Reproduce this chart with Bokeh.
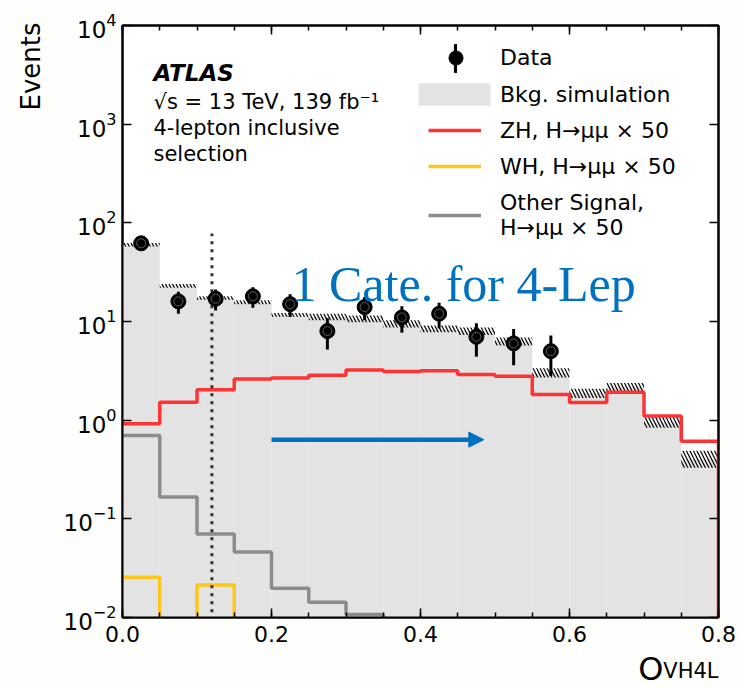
import numpy as np
from bokeh.plotting import figure
from bokeh.models import (ColumnDataSource, FixedTicker, LinearAxis, LogAxis, Label,
                          Legend, LegendItem, Arrow, NormalHead, Range1d, PrintfTickFormatter)
from bokeh.core.properties import value
from bokeh.embed import file_html
from bokeh.resources import INLINE

# ---------------- data ----------------
bin_edges = [0.00, 0.05, 0.10, 0.15, 0.20, 0.25, 0.30, 0.35, 0.40,
             0.45, 0.50, 0.55, 0.60, 0.65, 0.70, 0.75, 0.80]
bkg = [60, 23, 17.3, 15.7, 11.7, 11.1, 10.6, 9.5, 8.4, 8.0, 6.3, 3.0, 1.87, 2.15, 0.95, 0.40]
bkg_lo = [57.5, 22.0, 16.6, 15.0, 11.2, 10.3, 9.8, 8.7, 7.8, 7.3, 5.7, 2.7, 1.68, 1.94, 0.84, 0.33]
bkg_hi = [62.5, 24.0, 18.0, 16.4, 12.2, 12.0, 11.5, 10.3, 9.1, 8.7, 6.9, 3.35, 2.08, 2.38, 1.08, 0.49]
zh_x50 = [0.92, 1.52, 2.03, 2.62, 2.68, 2.85, 3.23, 3.11, 3.17, 2.90, 2.79, 1.82, 1.51, 1.92, 1.10, 0.61]
wh_x50 = [0.0256, 0, 0.0214, 0, 0, 0, 0, 0, 0, 0, 0, 0, 0, 0, 0, 0]
other_x50 = [0.70, 0.166, 0.070, 0.046, 0.0198, 0.0143, 0.0107, 0, 0, 0, 0, 0, 0, 0, 0, 0]
data_x = [0.025, 0.075, 0.125, 0.175, 0.225, 0.275, 0.325, 0.375, 0.425, 0.475, 0.525, 0.575]
data_y = [62, 16, 17, 18, 15, 8, 14, 11, 12, 7, 6, 5]
data_err = [7.9, 4.0, 4.1, 4.2, 3.9, 2.8, 3.7, 3.3, 3.5, 2.6, 2.4, 2.2]
x_ticks = [0.0, 0.2, 0.4, 0.6, 0.8]
y_ticks = [1e-2, 1e-1, 1e0, 1e1, 1e2, 1e3, 1e4]
cut_x = 0.12
cut_top = 78
arrow_x = [0.2, 0.485]
arrow_y = 0.635

# ---------------- styles ----------------
RED = "#ff3333"
YEL = "#ffc61a"
GRY = "#8c8c8c"
BKG = "#e3e3e3"
BLUE = "#0070c0"
FONT = "DejaVu Sans"
FLOOR = 1e-4

# frame geometry (pixels)
FL, FR, FT, FB = 122, 718, 25, 617
XMIN, XMAX, YMINE, YMAXE = 0.0, 0.8, -2, 4


def px_x(px):
    return XMIN + (px - FL) / (FR - FL) * (XMAX - XMIN)


def px_y(py):
    return 10 ** (YMAXE - (py - FT) / (FB - FT) * (YMAXE - YMINE))


def step_path(edges, vals):
    xs, ys = [], []
    for i, v in enumerate(vals):
        v = v if v > 0 else FLOOR
        xs += [edges[i], edges[i + 1]]
        ys += [v, v]
    xs.append(edges[-1])
    ys.append(FLOOR)
    return xs, ys


p = figure(frame_width=FR - FL, frame_height=FB - FT,
           x_range=Range1d(XMIN, XMAX), y_range=Range1d(10 ** YMINE, 10 ** YMAXE),
           y_axis_type="log", output_backend="svg", toolbar_location=None,
           min_border_left=FL, min_border_right=740 - FR, min_border_top=FT,
           min_border_bottom=687 - FB)
p.background_fill_color = "white"
p.border_fill_color = "#fefefc"
p.outline_line_color = "black"
p.outline_line_width = 2
p.xgrid.visible = False
p.ygrid.visible = False

left = bin_edges[:-1]
right = bin_edges[1:]
src = ColumnDataSource(dict(left=left, right=right, bkg=bkg, lo=bkg_lo, hi=bkg_hi,
                            floor=[1e-3] * len(bkg)))

bkg_r = p.quad(left="left", right="right", bottom="floor", top="bkg", source=src,
               fill_color=BKG, line_color=None)
p.quad(left="left", right="right", bottom="lo", top="hi", source=src,
       fill_alpha=0, line_color=None, hatch_pattern="\\", hatch_color="black",
       hatch_scale=7, hatch_weight=1.2)

xs, ys = step_path(bin_edges, other_x50)
oth_r = p.line(xs, ys, line_color=GRY, line_width=3.5)
xs, ys = step_path(bin_edges, wh_x50)
wh_r = p.line(xs, ys, line_color=YEL, line_width=3.5)
xs, ys = step_path(bin_edges, zh_x50)
zh_r = p.line(xs, ys, line_color=RED, line_width=3.5)

p.segment(x0=[cut_x], y0=[1e-3], x1=[cut_x], y1=[cut_top], line_color="#333333",
          line_width=3, line_dash="3 5")

dsrc = ColumnDataSource(dict(x=data_x, y=data_y,
                             lo=[y - e for y, e in zip(data_y, data_err)],
                             hi=[y + e for y, e in zip(data_y, data_err)]))
err_r = p.vbar(x="x", bottom="lo", top="hi", width=0.004, source=dsrc,
               fill_color="black", line_color=None)
dat_r = p.scatter(x="x", y="y", source=dsrc, size=15, marker="circle",
                  fill_color="black", line_color="black")
p.scatter(x="x", y="y", source=dsrc, size=9, marker="circle",
          fill_alpha=0, line_color="#777777", line_width=0.8)

p.add_layout(Arrow(end=NormalHead(size=15, fill_color=BLUE, line_color=BLUE),
                   x_start=arrow_x[0], y_start=arrow_y, x_end=arrow_x[1], y_end=arrow_y,
                   line_color=BLUE, line_width=4.5))

# ---------------- axes ----------------
xt = FixedTicker(ticks=x_ticks, minor_ticks=bin_edges)
yt = FixedTicker(ticks=y_ticks, minor_ticks=[])
p.xaxis.ticker = xt
p.xaxis.formatter = PrintfTickFormatter(format="%.1f")
p.yaxis.ticker = yt
for ax in (p.xaxis[0], p.yaxis[0]):
    ax.axis_line_width = 2
    ax.major_tick_in = 9
    ax.major_tick_out = 0
    ax.minor_tick_in = 5
    ax.minor_tick_out = 0
    ax.major_tick_line_width = 1.5
    ax.minor_tick_line_width = 1.5
    ax.major_label_text_font = FONT
    ax.major_label_text_color = "black"
p.xaxis.major_label_text_font_size = "22px"
p.yaxis.major_label_text_font_size = "23px"
p.xaxis.major_label_standoff = 8
p.yaxis.major_label_standoff = 6

top_ax = LinearAxis(ticker=xt, major_label_text_font_size="1px", major_label_text_alpha=0,
                    axis_line_width=2, formatter=PrintfTickFormatter(format="%.1f"),
                    major_tick_in=9, major_tick_out=0, minor_tick_in=5, minor_tick_out=0,
                    major_tick_line_width=1.5, minor_tick_line_width=1.5, major_label_standoff=0)
right_ax = LogAxis(ticker=yt, major_label_text_font_size="1px", major_label_text_alpha=0,
                   axis_line_width=2,
                   major_tick_in=9, major_tick_out=0, minor_tick_in=0, minor_tick_out=0,
                   major_tick_line_width=1.5, major_label_standoff=0)
p.add_layout(top_ax, "above")
p.add_layout(right_ax, "right")

# axis titles (placed in the side panels so they are not clipped by the frame)
p.add_layout(Label(x=px_x(30), y=px_y(22), text="Events", angle=np.pi / 2,
                   text_align="right", text_baseline="middle", text_font=FONT,
                   text_font_size="26px", text_color="black"), "left")
p.add_layout(Label(x=px_x(663), y=px_y(668), text="O", text_align="right",
                   text_baseline="alphabetic", text_font=FONT, text_font_size="32px",
                   text_color="black"), "below")
p.add_layout(Label(x=px_x(718), y=px_y(670), text="VH4L", text_align="right",
                   text_baseline="alphabetic", text_font=FONT, text_font_size="21px",
                   text_color="black"), "below")

# ---------------- annotation texts ----------------
p.add_layout(Label(x=px_x(153), y=px_y(72), text="ATLAS", text_font=FONT,
                   text_font_style="bold italic", text_font_size="23px",
                   text_baseline="alphabetic", text_color="black"))
for txt, base in [("√s = 13 TeV, 139 fb⁻¹", 101), ("4-lepton inclusive", 127.5),
                  ("selection", 153)]:
    p.add_layout(Label(x=px_x(153), y=px_y(base), text=txt, text_font=FONT,
                       text_font_size="21px", text_baseline="alphabetic",
                       text_color="black"))
p.add_layout(Label(x=px_x(291), y=px_y(283), text="1 Cate. for 4-Lep",
                   text_font="Liberation Serif", text_font_size="50px",
                   text_baseline="alphabetic", text_color=BLUE))


# ---------------- legends (one per entry) ----------------
def add_legend(label, renderers, cx, cy, gw, gh, label_x=500):
    x0 = int(round(cx - gw / 2))
    top = int(round(cy - gh / 2))
    leg = Legend(items=[LegendItem(label=label, renderers=renderers)],
                 location=(x0 - FL, FB - (top + gh)),
                 glyph_width=gw, glyph_height=gh, label_standoff=int(label_x - (x0 + gw)),
                 padding=0, margin=0, spacing=0, label_height=gh,
                 border_line_alpha=0, background_fill_alpha=0,
                 label_text_font=FONT, label_text_font_size="22px",
                 label_text_color="black")
    p.add_layout(leg)


add_legend(" ", [err_r], 455, 58, 4, 36, label_x=470)
add_legend("Data", [dat_r], 455, 58, 35, 35)
add_legend("Bkg. simulation", [bkg_r], 454, 94, 90, 28)
add_legend("ZH, H→μμ × 50", [zh_r], 454, 130, 53, 28)
add_legend("WH, H→μμ × 50", [wh_r], 454, 166, 53, 28)
add_legend("Other Signal,\nH→μμ × 50", [oth_r], 454, 215, 53, 54)

open("out.html", "w").write(file_html(p, INLINE))
